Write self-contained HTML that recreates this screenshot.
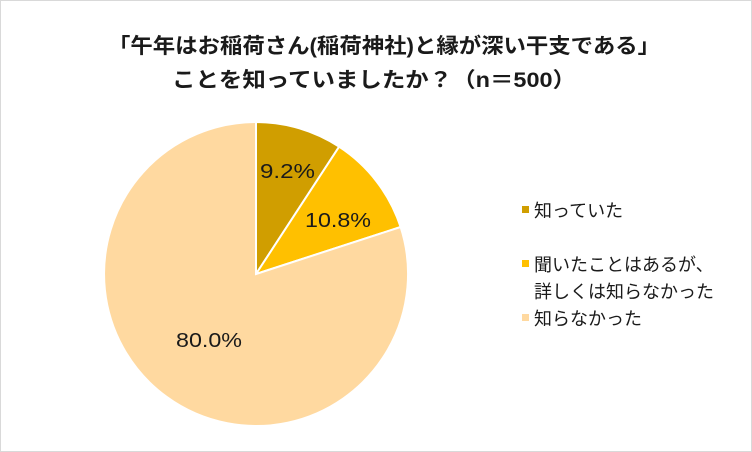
<!DOCTYPE html>
<html><head><meta charset="utf-8"><style>
body{margin:0;width:752px;height:452px;background:#fff;overflow:hidden}
.f{position:absolute;left:0;top:0;width:750px;height:450px;border:1px solid #d9d9d9}
svg{position:absolute;left:0;top:0}
text{font-family:"Liberation Sans","Noto Sans CJK JP",sans-serif;fill:#1a1a1a}
</style></head><body><div class="f"></div>
<svg width="752" height="452">
<text x="108" y="53" font-size="21" font-weight="bold" fill="#404040" textLength="552" lengthAdjust="spacingAndGlyphs">「午年はお稲荷さん(稲荷神社)と縁が深い干支である」</text>
<text x="172" y="87" font-size="21" font-weight="bold" fill="#404040" textLength="404" lengthAdjust="spacingAndGlyphs">ことを知っていましたか？（n＝500）</text>
<g stroke="#fff" stroke-width="2">
<path d="M256,274 L256,122 A152,152 0 0 1 339.1,146.7 Z" fill="#D09E00"/>
<path d="M256,274 L339.1,146.7 A152,152 0 0 1 400.6,227 Z" fill="#FFC000"/>
<path d="M256,274 L400.6,227 A152,152 0 1 1 256,122 Z" fill="#FFD9A0"/>
</g>
<text x="260" y="178" font-size="20" textLength="55" lengthAdjust="spacingAndGlyphs">9.2%</text>
<text x="305" y="227" font-size="20" textLength="66" lengthAdjust="spacingAndGlyphs">10.8%</text>
<text x="176" y="347" font-size="20" textLength="66" lengthAdjust="spacingAndGlyphs">80.0%</text>
<rect x="522" y="206" width="7" height="7" fill="#D09E00"/>
<text x="534" y="217" font-size="18">知っていた</text>
<rect x="522" y="260" width="7" height="7" fill="#FFC000"/>
<text x="534" y="271" font-size="18">聞いたことはあるが、</text>
<text x="534" y="298" font-size="18">詳しくは知らなかった</text>
<rect x="522" y="314" width="7" height="7" fill="#FFD9A0"/>
<text x="534" y="325" font-size="18">知らなかった</text>
</svg></body></html>
